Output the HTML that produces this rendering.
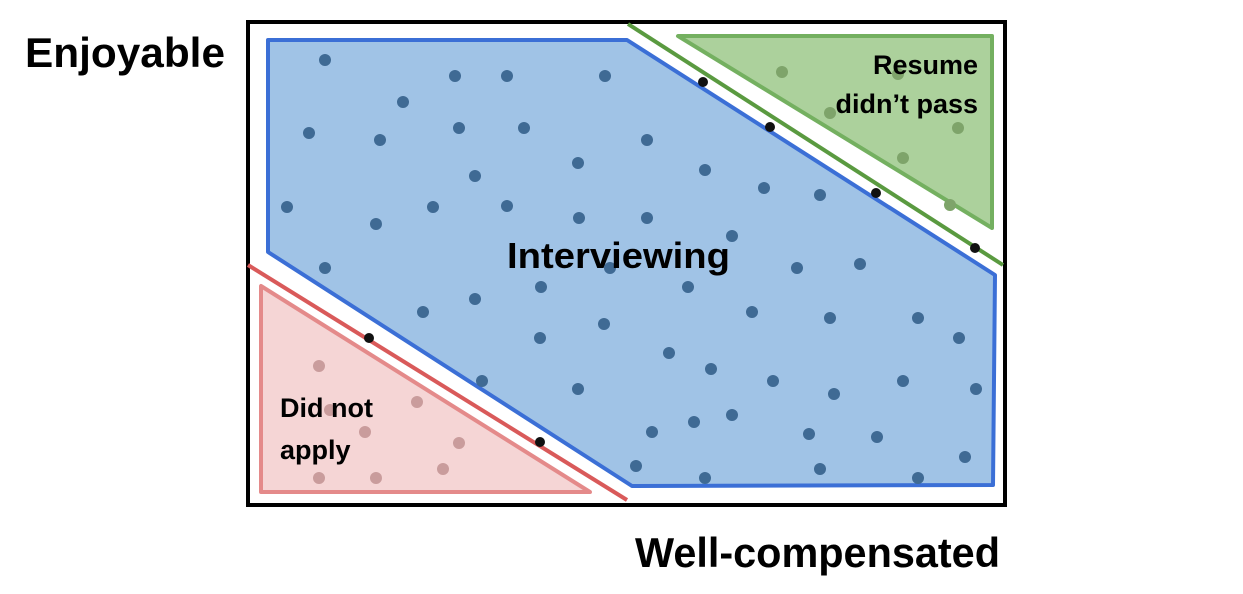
<!DOCTYPE html>
<html><head><meta charset="utf-8"><style>
html,body{margin:0;padding:0;background:#fff;width:1243px;height:594px;overflow:hidden}
svg{display:block}
text{font-family:"Liberation Sans",sans-serif;font-weight:bold}
</style></head><body>
<svg id="chart" width="1243" height="594" viewBox="0 0 1243 594">
<rect x="248" y="22" width="757" height="483" fill="#fff" stroke="#000" stroke-width="4"/>
<polygon points="268,40 627,40 995,275 993,485 632,486 268,252" fill="#a0c3e6" stroke="#3b6fd6" stroke-width="4" stroke-linejoin="round"/>
<polygon points="678,36 992,36 992,228" fill="#acd19c" stroke="#74b060" stroke-width="4" stroke-linejoin="round"/>
<polygon points="261,286 261,492 590,492" fill="#f5d5d5" stroke="#e48a8a" stroke-width="4" stroke-linejoin="round"/>
<line x1="628" y1="24" x2="1003" y2="265" stroke="#5a9a40" stroke-width="4"/>
<line x1="248" y1="265" x2="627" y2="500" stroke="#d95a5a" stroke-width="4"/>
<g id="dots"></g>
<text x="25" y="67" font-size="42" fill="#000" textLength="200" lengthAdjust="spacingAndGlyphs">Enjoyable</text>
<text x="635" y="567" font-size="42" fill="#000" textLength="365" lengthAdjust="spacingAndGlyphs">Well-compensated</text>
<text x="507" y="268" font-size="36" fill="#000" textLength="223" lengthAdjust="spacingAndGlyphs">Interviewing</text>
<text x="978" y="74" font-size="27" fill="#000" text-anchor="end">Resume</text>
<text x="978" y="113" font-size="27" fill="#000" text-anchor="end">didn’t pass</text>
<text x="280" y="417" font-size="27" fill="#000">Did not</text>
<text x="280" y="459" font-size="27" fill="#000">apply</text>
</svg>
<script>
// positions in chart units (0..757 horizontal, 0..483 vertical, inside frame)
const blueX=[77,207,259,357,155,61,132,211,276,399,330,227,457,516,572,39,128,185,259,331,399,484,77,362,293,227,440,549,612,175,356,504,582,670,292,711,421,463,234,330,525,586,655,728,404,446,484,561,629,388,457,572,670,717];
const blueY=[38,54,54,54,80,111,118,106,106,118,141,154,148,166,173,185,202,185,184,196,196,214,246,246,265,277,265,246,242,290,302,290,296,296,316,316,331,347,359,367,359,372,359,367,410,400,393,412,415,444,456,447,456,435];
const edgeX=[455,522,628,727,121,292];
const edgeY=[60,105,171,226,316,420];
const greenX=[534,582,650,710,655,702];
const greenY=[50,91,52,106,136,183];
const pinkX=[71,82,169,117,211,71,128,195];
const pinkY=[344,388,380,410,421,456,456,447];
const sx=v=>248+v, sy=v=>22+v;
const g=document.getElementById('dots');
function draw(xs,ys,fill,r,name){
  xs.forEach((v,i)=>{
    const c=document.createElementNS('http://www.w3.org/2000/svg','circle');
    c.setAttribute('cx',sx(v));c.setAttribute('cy',sy(ys[i]));c.setAttribute('r',r);c.setAttribute('fill',fill);
    
    
    g.appendChild(c);
  });
}
draw(blueX,blueY,'#3f6a94',6,'interviewing-point');
draw(greenX,greenY,'#7ea46a',6,'resume-point');
draw(pinkX,pinkY,'#c99c9c',6,'not-apply-point');
draw(edgeX,edgeY,'#111',5,'boundary-point');
</script>
</body></html>
